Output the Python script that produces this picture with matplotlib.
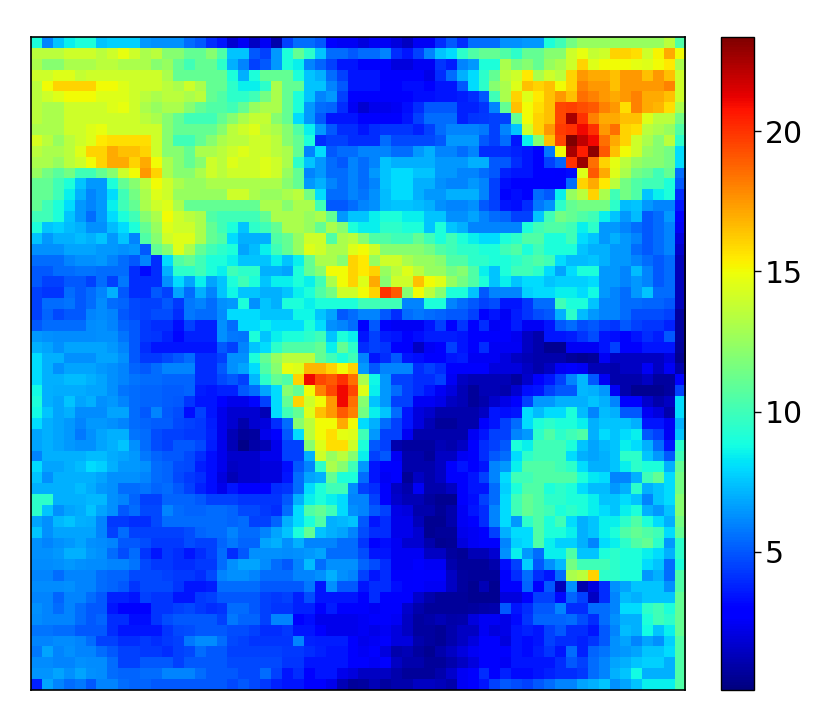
import numpy as np
import matplotlib
matplotlib.use("Agg")
import matplotlib.pyplot as plt

# Values, top row first; left half = columns 0-29, right half = columns 30-59
heat_left = [
[9,6,7.5,8.5,9,9,7.5,7.8,7.8,7.8,6.5,6.3,6.3,6.3,5.5,5,4,3.5,1.8,2.5,1.5,2.5,1,4.5,5.5,5.5,5,3,2.5,2.5],
[13.5,13.5,13.5,14,14,14,13.5,14,14.8,14,13,13.5,12,12,11,11,12,10.5,7.5,7.5,5,4.5,6.5,9,11,9.5,7.5,5.5,5.5,5],
[13,12,12,13,13,13,13.5,13.5,13,13,13,12,12.5,11,10,11,11,9.5,7,6,4.5,5,6.5,9,8.5,6,5.3,4.5,3.5,3.5],
[14,14,14.5,14.5,13.8,14,14,14,14,14,14,14,13,11,11,11,11,11,9,7,9,11,11,11,9,7.5,7,5.5,4.5,3.5],
[13.5,15,16,16,16,16,15,15,14.5,14,14,14,13.5,13,14,13,11,11,9.5,8.5,8.5,9.5,13,11,11,7.5,7.5,6,5,3.5],
[13.5,14,14.5,15,15,15,14.5,14.5,14.5,14,13.5,13,13.5,13.5,13,13.5,11,10.5,9.5,9.5,10,11.5,13,11,9,7.5,6,6.5,4.5,3],
[13.5,13,13,14,14,14,14,14.5,14.8,14,13,12.5,13,13,12,11,10.5,10.5,10,11,12.5,13,13,11,9,6.5,5.5,5.3,4,2.5],
[13.5,13,13,14,14,14,14,14,14,14,13.5,13,12,11,10,10,10,11,12,13,13.8,13.8,12,11,8,6.5,5,3.5,3.5,3.5],
[13,13,13,14,14,14.5,14.8,14,14,14,14,14,12,11,11,11,11,12,13.5,14,14.5,13.5,13,12,10.5,8.5,6.5,5,4,4],
[14.3,13.5,12.5,13.5,14,14.5,15.5,15.8,15.8,15.8,15.8,14,12,10,10,11,12,13,13.5,13.5,14,14,13.5,12,11,9,4,4.5,4.5,4],
[13.5,13,13,13.5,14.5,16,16,17,16.5,16.5,16,14,12,12,11,13,13,13.5,14,14.5,14,14,13.5,13,11,6,8,5,5.5,5.5],
[13,13,12.5,13.5,14,15,16,17,17,16,17,15,13,12,11,12,14,13.5,14.5,14,14,14.5,14,13,9.5,7.5,6.5,5.5,5,6],
[12.5,11.5,10.8,11.5,10,10,11,12,14,15,17.5,16,13,12,12,13,14,13.5,14,14,14,14.5,14,12.5,11,6,6.5,5.5,5.5,6],
[11,11,10,9,7.5,6.5,6.5,9,11,12,13.5,15,14,13,12.5,12.5,13,13,13,13,13,13,13,12,11,6.5,7,6,5.5,6],
[11,11,10,8.5,7,6,6.5,8,10,11.5,13,14.5,14,12.5,12.5,12.5,12.5,12.5,14,14,13,12.5,12.5,13,13.5,11.5,8,5.5,5.5,6],
[11,10,9,8,6.5,6,6.5,8.5,10,11,13,14,14.5,13,11,11,11,11,11,11,11,13,13,12,13,13,10,5,5,5.5],
[10,10,9,7.5,6.5,5.5,6.5,8,9,10,12,13,15,14,13.5,13,10.5,10,10,10,10,11,13,13,13,12.5,13,11,6.5,7.5],
[9,7.5,7.8,7.3,7,6.3,6.3,7.3,8,9,11,12.5,14.5,14,14,13,11,10,9,7.5,9.5,10,11,13,13,12.5,11,13,12,9],
[7.5,6.5,7,7,7.3,7,7.5,6.5,7.5,6,10.5,12,14,14.5,14.5,13,11,10.5,8,7,7,7,10.5,11,12.5,14,14,10.5,13,13.5],
[6.3,6.3,6.3,6.8,6.8,6.8,6.5,6.5,6.3,6.5,5,11,12,14.5,13,11,10,9.5,9,6.8,7.3,8.5,10,11,12.5,14.5,14,13,13,14.5],
[5.5,5.5,5.5,6,6.3,6.3,6.5,6,5.5,5,6,4,8,10.5,11,10,9,9,8.5,7.5,7.5,7.5,8.5,7.5,8.5,11,13,13,12,16],
[5,5,5.5,5.5,5.7,5.7,5.5,5.5,5.5,4,3.2,4,7,9.5,9.5,10,9,8.5,10,9.5,9.5,7,7,6.8,9,11,12,15,15,16],
[5,4.5,4.5,5,5,4.5,5.5,4.5,5.8,4,4,4,6.3,8,6.8,8.5,6.8,7.5,9,10,9,7.5,8.5,8.5,9,8.5,10,13,15,16],
[4.5,4.2,4.2,5.5,5,5.5,6,7,5,4,4,5,4.5,6.8,5.5,7,6,7.5,8.7,7.5,7.5,7,7,7.5,8.5,9,10.5,11.5,14,14],
[4.5,5.5,5.5,5.7,5,5.5,6.2,5.5,5.3,4.7,4.5,4.5,5,4.3,5.8,6,5.5,6.3,6.5,9,6.3,7.5,7,9,9,8.5,9,9,9,9],
[4.5,5.3,4.7,5,5,6,6.2,6,5,4.7,4.5,4.8,4.8,4,5.8,5.5,5.5,6.2,8,8,8,7.5,7.5,7.5,8.7,8.7,7.5,6.8,5,5.5],
[5,5.5,5.5,5.5,5.5,6.2,6.3,6,5.3,5,4.3,4,4,3.3,4.5,3.8,3.8,6.3,5.5,8,8,8.5,8,8,8,9,8,6.3,6,5.5],
[6.5,6.3,6.2,6.2,6.2,6.2,6.3,6.3,5.7,5,4.3,4.2,3.8,3.1,3.8,3.8,3.8,6.3,5.8,5.7,9,7.5,8.5,9,9,9.5,10,7.5,9,8.5],
[7,6.8,6.3,6.8,6.8,6.8,6.8,6.5,6,5,4,3.5,3.5,3.5,3.5,3.5,3.5,5,4.5,6,7.5,8,9.5,10.5,10.5,10.5,11,8.5,11,9.5],
[8,7,7,6.3,6.3,6.3,6.8,6.8,6.3,5,4.3,4.3,4.7,5,5.5,4,4,4.5,6.3,6.3,9,11,12.5,13.5,13.5,13.5,11,10,9,10],
[8,7,6.3,6.8,6.8,6.8,6.5,6.3,6,5.3,5,5.5,6,6,6,4,4,5,6.3,6.8,8,10.5,12,14.8,14.5,16.8,16.8,16,15,16],
[8,7,7,7.3,7.3,7,6.8,6.3,6,5.7,5.5,5.5,5.3,5.3,5.3,4,4,4.7,5,4.5,7.2,9.5,11,10.5,16,21,19.5,19,20,18.5],
[8.8,7,6.9,6.9,6.9,6.8,6.8,6.3,5.7,5.5,5.3,5.3,5.1,5.1,5.3,3.7,3.5,3.8,3.8,5,5.5,6.8,8,12,11,15,18,19.5,21,19.5],
[9,7,6.8,7.5,6.8,7,6.3,6.5,6,5.5,5.3,5.3,5.1,5,4.2,3.5,3.5,3,2.3,2.3,3.1,4.5,8,11,16,14,15,17.5,21,18.5],
[8.8,7.5,6.8,7,6.2,6.2,6.2,6.8,6.8,5.5,5,6,5,4.8,3.3,4.5,3.5,2.3,1.8,1.8,1.8,1.2,8,10,11,14.5,16.5,17.5,19,18],
[8,7,6.8,6.5,6,6.5,6.5,6.3,6,5.5,5.3,5.1,5.1,4.7,4.5,4.3,3.7,2.3,1.8,1,1.8,2,4,5.5,12,13.5,15,15,17,15],
[6.8,7,6.8,6.5,5.8,6.3,6.8,7,7,5.7,5.5,4.8,4.5,4.5,4.3,4.3,3.8,2.3,1.2,0.7,0.8,2.3,3,5,8,13.5,15,15.8,14.7,14.5],
[6.8,7,6.8,6.5,6.3,6.3,6.8,7,7.5,6.3,5.5,4.8,4.5,5,5,4.7,3.7,2.3,1.2,0.3,0.9,1.2,2.3,4.5,4.5,12,14.5,15.8,15.8,14],
[6,7,7,7,7,7.3,7.3,6.9,6.8,6.5,5.8,5.3,5,5,4.7,4,3.3,2.3,1.7,1.7,1.7,2.3,2.3,4.5,4.5,7,14,12.5,13.5,12],
[8,6.8,6.8,7,7.3,8,7.8,7,6.5,6.5,6.3,5.5,5.3,4.8,4.7,3.7,3.3,2.3,1.5,1.7,1.7,2,2,3.3,5,6,9.5,13,12,10],
[7.5,6.3,7,7,7,7,6.8,6.3,6.3,6.3,6,5.5,5.3,4.7,4.3,4,3.3,2,1.2,1.7,1.7,2,2,3.5,5.5,6.8,7,11,9,9],
[7,7,7,7,7.3,6.9,6.5,6.3,5.5,5.5,5.7,5.3,5.5,5,4.5,3.8,3.3,2.3,3.5,3,3,3,4,4.2,5.5,8,9,10,10,6.2],
[9.5,9.5,7,7,7,7.2,7.2,6.3,6,5.3,4.5,4.5,5.3,5.3,5.3,5,4.5,4.5,4.5,4.2,4.2,4.2,4.2,5,7,8.5,9,8.5,8,6],
[9.5,7.5,6.3,6.8,6.9,7.5,6.8,6.3,5,5.5,4.7,4.7,6,5.5,5.3,5.3,5.5,5.5,5.3,4.7,4.7,4.3,4,5.5,8,10.5,11,10,8,6.3],
[6.8,6.3,7.2,7.5,7,6.9,6,4.3,4.3,4,4,4.7,5.5,5.5,5.5,5.5,5.5,5.5,5.3,5.5,4.5,4.5,5.3,7,8,9,10.5,7,7.2,7.5],
[7.5,6.3,6.8,6.8,6.8,6.8,6,4.5,5.5,4.5,4.5,4.5,4.5,4.5,4.8,5.3,5.5,5.5,6,5.5,5.5,6,6.8,7.5,9,11,7.5,7,6.8,6],
[6.3,6,6.3,6.5,6.8,6.3,6.2,6,5,5,4.8,4.3,4.3,4.3,4.8,4.5,4.5,5.3,5.8,5.3,5.3,6.8,7,6.3,7,6,6,6,5.5,5.5],
[6.3,6.3,6.5,7,7,6.5,6.3,5.5,4.8,5.5,4.2,3.5,4.3,4,3.5,4,4.5,5.5,4,5,6.3,6.3,6.3,6.2,6.3,6.5,6.8,5.5,5.5,5.5],
[6.2,6.2,6.3,6.5,6.3,6.2,6.2,6,6,5.7,4.7,4.3,4.3,4,4,4.3,4.3,5.5,6.3,6.8,6.8,6.2,5.5,5,6,7.3,5.5,6.3,6.3,6.3],
[6,6,5.5,6,6,6,5.5,5.3,5.3,4.7,4.7,4.7,4.5,4.3,4.3,4,4.7,6,6.3,6.3,6,5.5,5.5,5.5,6,6,6.3,7,6.3,6],
[6.2,6.2,6.2,6.3,6,6,5.5,5.3,5,4.2,4.7,4.7,4.7,4.2,3.5,3.5,3.7,5.5,5.5,5.5,5.5,5,5,5,5,5.8,3.5,6.3,5,5],
[6,6,5.3,6,6,5.5,5,3.8,3.8,3.5,4.5,4.2,4.2,3.5,3.5,4.3,4.5,5,5,5,5,4.5,4.3,4.5,3.8,4.8,3.5,3.5,3.5,3.5],
[6.3,6,5.5,6,5.5,5,5,3.5,3,3,3,4.2,4.2,4.5,4.7,4.3,4,4.2,5.5,5.5,5,4.5,4.2,4.2,3.8,3.8,3,3.7,3,3],
[6.2,6,6,6,5.5,5,5.3,4,4,3.3,3.3,4.2,4.8,5,5,5,5,4.5,5.8,5.3,5.3,4.5,6,6,3,3.3,2.3,2.3,2.3,2.3],
[5.7,5.7,5.5,5.5,5,5,5,4,3.5,3.5,3.5,3.5,4.2,4.7,4.8,5,5,5,4.8,4.8,4.5,4,4,4.3,3.5,3.5,3,2.3,2.3,2.3],
[6,6,6.2,6.2,6,5.5,4.5,4.5,4,4,4.3,4,4.3,4.5,5.8,6.2,6.2,5.5,4.7,4.5,4.2,4.2,4.2,4.2,6,3.8,3.7,3.7,3.7,3],
[5.8,6.8,6,6.3,6,6,5.5,5,4.5,4.5,4.3,4.3,4,4.5,4.7,5.5,5,5,4.5,4.5,4.5,4.5,4.5,4.3,4.3,4,3.8,3.5,3.5,3],
[6.2,6.2,6,6,6.3,6.2,6.2,5.5,4.5,4.5,5,5,5,4.5,5,5,5,5,4.7,4.7,4.7,4.7,4.7,4.2,4.2,3.5,3.5,3.5,3.5,3],
[6.4,6.4,6.8,6.3,6.8,6.3,6.2,5.5,5.3,5.3,5.5,5.5,6,6,6,5.5,5,5,5,4.7,4.7,5.5,4.5,3.5,4,3,3.5,3.5,2.3,2],
[3.8,6.8,6,5.5,5.8,5,6,6,5.5,5.3,5.3,5,5,5,5,5,5,5,4.7,5,4.7,4.3,3.8,3.5,3.5,3,3,2.3,1.2,0.7],
]
heat_right = [
[2,2.5,2.5,2,1.5,2.5,2.5,4,5,4,5.5,5.5,5.5,6.3,6.3,6.5,6.5,9,10,11.5,12.5,12.5,12.5,12.5,12.5,12.5,12.5,12.5,13.5,10.5],
[5.5,5.5,6,4,3.5,4.5,6,7.5,8,9.5,10.5,11,11,10.5,9.5,11,11,12,12,14,14.8,13.8,14,16,16,15.8,14,15.2,17,15],
[2.7,2.7,2.7,2,2,2.5,2.5,4.2,3.7,6,6.5,9,9,13,11.5,12,11,12.5,13,14,16,14.5,15,15,15,14.7,14.5,15,15.5,13],
[3.5,3.5,2.7,2.7,2.7,2.7,2.2,4,5.5,7,8,9.5,11,13.5,14,15.5,13,14,13.5,16,17.5,17,17,16.5,17.5,17.5,16.5,17.5,16.5,14],
[3.5,3.5,3,3,3.3,3.3,2.8,3.5,3.5,5,8,9.5,12,13,14.5,16.5,16,16.5,15,16,18,17.5,17.5,16.5,17.5,17.5,17.5,17.5,18,14],
[2.7,2.7,2.7,2.7,3,3.3,3.3,3.5,3.5,3.7,4,5,10,13,16,14.5,15.5,16.5,17.5,16.5,18.5,18,17.5,17,17.5,18,17,17,16.5,14],
[1.8,2.3,2.3,2.5,3.3,4,5,5,5,3.8,3.8,4.2,6,11,16.5,15,15.8,16.5,19.5,19.7,19.3,19,18,17.5,15.8,18,17,16.8,15.8,13],
[3,3,2.7,3,3.5,4.5,5.5,5.5,5.5,3.8,4.2,4.3,4.5,4.5,11,15,16,16.5,19.5,22.5,20,18,17,17,16.5,16.5,14.5,13.5,13.5,11.5],
[3.5,4,4.2,4.2,4.2,3.8,4.5,5.5,6,6,6,5.8,4.5,6,7.5,14,16,17.5,19.8,20,21,20,17.5,18.5,16,15.8,13.5,13,12.5,10.5],
[4,4,5.5,4.7,4.7,4.7,4.7,5,6.5,6.5,6.5,5,4.5,5.5,3.5,8.5,12,16.5,19.5,23.3,22,21,18.5,17,16,14,13,12,13.5,9.5],
[6,6,6,5.5,5.5,6.5,7,6,6,5.5,6,4,4,4,3.8,3.5,2.8,5.8,15,22.5,20.5,23,19,16.5,15,14,12.5,12,11.5,8],
[5.5,6,7.5,7,7,7,7,6.5,6.5,6.5,7,7,5,5,4,3.5,2.7,4.5,5.3,20,22.8,18.5,16,14.7,13.5,12.5,12,12,11.5,8],
[5.5,6.5,7.5,8,8,7.5,7.5,6.5,6.5,6,6,5.5,5,3.8,3.5,3.5,3,3,2.7,3.2,14.5,19,17,14.5,13,11.5,11,10,11,5.5],
[5.5,6,7.5,8,8,7,7,6.3,6,6,6.5,6,4.5,3.3,3,3,2.7,2.7,2.7,5.5,16,17,15.5,13.5,11.5,10.5,10,10,9,5],
[5.7,6.3,7.3,8,8,7,6.5,6.5,7,7,7,6,4.5,3,3.3,3,5.5,5,8.5,12.5,13.5,16,13,10,11.5,10.5,7.5,8.5,9,4],
[6,6.3,7.3,7.5,7.5,7.3,7,6.3,6,6,6.3,5,4.5,3.5,3.3,4,5.8,6.3,9.5,11,11.5,11.5,11.5,9.5,7.3,7.5,6.5,6,6,3.5],
[7.5,8.5,9,9,8.5,8.5,7.5,7.5,6.3,6.3,6.8,6,5.5,5.3,4.5,4.5,7.5,10,11.5,11,10.5,10,8.5,7.5,6.5,7.3,5,5.5,6.5,3],
[8.5,8.5,9.5,9.5,9,9,7.5,9,7.5,7,6,6,6,6,6,9,10,10.5,10.5,10,8.5,9.5,6.5,6.5,6,5.5,5,5.5,6,2.5],
[12,10.5,10.5,10,10,11,10,9,10,9,8.5,8,8,9,9.5,10.5,10.5,9,9,10,8,7.5,6.5,7,6.5,6,5,5.5,6,2],
[15,14,12,12,12,12,11.5,10.5,10,9.5,9.5,9,9,10,10.5,9,10,9,9,9,7.5,7,7,6.5,6.5,5.5,5,5.5,6,1.7],
[15.5,12.5,14,14,13,12.5,12.5,12,10.5,10.5,9.5,9.5,9,9,9.5,10,10.5,10,8,7.3,7.3,7.5,7,6.5,6.5,6,5.5,5,5.5,1.3],
[15.5,16,12.5,13.5,14.5,13.5,12.5,12.5,11.5,12,10.5,8.5,7.5,9,10,10,9.5,8,6.8,8,9,9,6.5,6.5,6,7.3,6,5,5.5,1.3],
[14.5,17,12,14,14,16.5,15,14.5,12.5,11.5,10.5,9,7.5,8.5,7.5,8,8,7.5,7.8,7.8,7.8,8,6.5,6.5,6,6.5,6,5,5.5,1.3],
[15,16,20,19,12,15,13.5,12,9,9,7.5,5,6,6,6,7.8,8,8,8.5,8.5,8,8.8,6.5,6,5.5,6.5,7.5,5.5,5.5,1.3],
[10,10,10,10,6,6,9,9,6,5.5,5,4.5,4.8,3.5,3.5,4.2,5.5,5.5,10,9,9,7.5,6,6,5.5,5.5,5.3,5.3,5,1.3],
[6,6,5,4,5.5,5.8,5.5,5.3,5,5,4.5,3,3.5,2.5,3.7,4.2,4.8,5,7,9.5,7.3,6.5,6,6,5.5,4.8,4.8,4.8,4.5,0.8],
[3,5,2.7,2.5,2.5,2.5,3.5,4.5,3,4.2,2.8,4,2.5,2.8,3.7,2.5,2.5,3.5,5,5.5,4.8,5,4.5,4.2,5,4.5,4.2,4.2,3.8,0.8],
[3.5,4.5,3.7,3.5,2.7,3.3,3.7,3.7,3.7,3.5,3,2.8,2.7,2.7,2.4,1.5,1,3.5,3.5,3.7,4.2,4.8,3.5,3.3,2.7,3.5,4,3.7,5,0.8],
[4,4.5,4.2,3,2.7,1.5,2.5,3,4.5,3.5,2.7,4,2.5,2.5,2.5,1.5,1,0.5,0.5,2.5,2.5,2.5,3.5,4.5,2.7,2.7,3.5,3.5,3.5,0.7],
[6,3.5,4,5,3.5,3.3,3,3,3.5,3.7,2.5,2.5,2.5,2,1.5,1.2,1,1,1,0.7,0.5,0.7,2.5,1.5,1.5,1.5,1.5,1.5,2,0.5],
[6.5,5,6,6,6,4,4.5,4,3,2.7,2.7,2.7,2,2,2,1.5,1,1.5,2.5,3,2.5,1.2,1.2,1,1.5,1.5,2.5,1.5,2.5,1],
[13,8.7,6.5,4.5,4.5,4,4,4.5,2.5,1.5,1.2,1.2,1.2,1.2,0.8,1.7,2.7,3.5,4.5,6,7.2,5,2.5,1,1,1,1.5,0.8,0.8,2.8],
[14.5,8.5,6.5,5.5,4.5,4,3.5,2.5,2,1.2,0.7,1.2,1.2,1,1.8,3.3,3.5,4.5,5,5,7.2,7,6.5,2.5,1,0.5,0.5,0.5,0.8,4.5],
[12,7.5,6.5,4.5,4.5,2.5,2.5,2.2,1.5,1.2,0.7,1,1.7,2.2,3,4.5,6.5,6.5,7,7,7,7.5,7,6,3,3,1.7,1,1.5,8],
[11.5,8.5,7.5,5.5,3.5,2,1.7,1,1,1,1,1.5,3.5,3.3,3.5,8,7.3,8,8,9,7.3,6,7.3,7,5,5,2.5,2,1,8],
[8,7,5.5,4.5,3.5,2,1.2,0.7,0.7,1,1,3,3.5,4.5,5.5,8,9,9.5,9,9,8.5,7,7.5,7.5,7.5,7,3.5,3.5,2.5,7],
[10,6.5,4.5,4.5,2.5,1,1,1,1,1,2.5,3.5,4.5,4.5,6,6.5,9.5,10.5,9.5,10,10.5,7,8,7.5,8,8.5,5,4.5,2.5,7.5],
[9,5,4.5,1,0.8,0.8,0.8,1.2,1,1.5,3,4,4.5,5,9,8.5,10,10,10,9,7.5,6.8,7.2,7.5,8.5,8,7,5.5,3.5,9.5],
[8.5,4.5,5,2.5,1,1,0.7,1.5,1.5,2.5,2.7,4,5,5.5,8,9.5,10,10,10,8,7,6.8,7,7.5,9.5,9.5,7.5,6.5,5,10],
[6.5,3.5,3,2.7,1,1,1,1.5,3,3.5,3,3.5,6,6.5,8.5,10.5,10.5,10.5,10,9.5,8,7,7,7.5,8.5,9.5,9,9,7,11],
[5.5,3.5,2.5,2.7,0.6,1.5,1,1.5,2.7,2.7,3.5,4.5,6,8,10,10,10.5,10.5,10.5,10.5,9,8.3,8,6,6,7,10,11,8,11.5],
[4.5,4,2.7,1.5,1,2.5,1,1,1.5,2.7,3.5,3.5,5.5,7.8,9,10.5,10.5,9,9.5,9,8,7.3,7.3,6.5,7,9.5,7,7.5,8,11.5],
[6,4.5,2.7,1.7,1.2,1.2,0.8,0.5,0.5,2.7,3.3,4.5,5.5,8,10,11,10.5,9.5,9.5,9,9,8.5,7.5,7.5,8,7.5,6,7.5,8,12],
[6,5,4.5,2.2,2,1,1,0.6,1,2.5,3.5,4,6,8,10,11,10.5,10,9,9.5,9,8.5,8,7.5,8.5,9,7,6.5,7.5,12],
[5,3.5,4,2.3,2.3,1.3,0.5,0.5,1,2.5,3,4,6,8,6.5,9.5,10.5,9,10,8,7,7.5,8.5,8.5,9.5,10.5,9,8,7,11.5],
[4.8,4,4,2.3,2.3,1.8,0.5,0.7,0.7,2.3,2.5,3,4.5,7,8,8,10.5,9,9,8.5,7,7.5,8.5,9,10.5,11,10.5,10,8,11],
[4.2,3,3.3,2.5,1.8,1.8,1,0.5,0.6,2,2.5,2.7,2.7,6,7.8,8,10.5,8.5,7.8,7.8,7,6,8,8.5,9.5,10.5,11,9.5,6.5,9.5],
[4.8,3.5,3.5,2.5,2.5,2.5,1.5,1.5,0.8,0.6,1.2,1.2,1.8,6.3,8.5,6.5,5.5,8.5,8.5,10.5,7.5,7.5,9,9.5,9,9,8.5,8,7,9.5],
[5.3,4.8,4,2.5,2.5,3,2.5,2.5,1,0.7,0.7,0.7,1,3.3,4.5,7.8,5,6.3,7.2,11.5,10,10,10,9.5,9,9,8,7.5,5.5,9],
[4.5,3.5,4,2.7,2.7,3,2.7,2.7,1.5,0.8,0.7,0.7,0.7,2.7,4,5.5,4,3.5,5.5,13,13.5,16,9.5,9.5,9,9,6.5,7,5.5,10.5],
[3.5,4,4,3.3,2.7,3,2.5,2.5,1.5,0.8,0.5,1.2,0.5,3,3,5.3,3,5,1.3,6.3,1,2,4,6.3,6.8,7.5,7.5,7.5,6.3,10.5],
[3,4,3,2.8,2.8,1.7,1,0.7,0.7,0.7,0.5,0.5,0.5,2,2,3,4.5,4.5,3.2,5.3,4.5,1.5,4,6,7.3,7,7.5,7.5,7.5,11],
[2.7,2.5,2.7,2.7,1.7,1,0.7,0.7,0.7,0.7,0.8,0.9,1,5,3.5,4,5,5,6,4,4,5.5,5.5,6,8,8,9.5,10,9,11],
[2.5,2.7,2.7,2.5,1.5,0.8,0.9,1.2,0.9,1,2,2.5,2.5,2.2,3.2,4.2,5.3,5.3,5.3,5.5,4.8,4,5.5,6.3,7,7,9,10,9.5,11],
[2.5,2.2,2.5,2,1.5,0.8,0.8,0.6,1,1.5,1.5,2.5,2,2.2,3.5,3.8,3.5,4.5,5,4,4,3.5,5,6,7.3,7,8.8,7.5,8.5,11],
[2.3,2.5,2.7,2,2,1,0.8,0.6,1,1.5,2,3,3,2,3.5,3.2,3.5,4.5,4,4,3.8,4.2,5,6.3,6.8,6,6.8,6.3,7.8,10.5],
[2.5,3,2,1,1.2,0.8,0.5,1,1.5,2,2.5,3,3,2.7,3.5,3.2,3.7,4.2,3.5,5.5,3.8,5.3,5.7,6.3,6.5,6.8,7.5,7.5,8,10.5],
[3,2.5,3,1.5,1,1,0.7,0.7,1,1.5,2,3,3,2.5,3.5,3.5,3.5,3.5,4,5,4.5,5.5,6,6.8,7,7.5,7.8,7.8,7,10.5],
[1.5,1.5,1.5,1,0.7,0.7,0.7,1,1.7,2.5,3,4,3,3.8,3.2,3.2,3.5,3.8,4,4,4.3,5.5,6,7,7.5,8.8,7,7,7,10.5],
[0.8,1.2,0.8,1,1,1.5,1.5,1.3,1,2.5,3,3.5,4.5,5,4.8,4.5,5,5.5,6,6,6.8,7,7.5,6.3,6.8,7.5,8.5,8.5,8.5,10.5],
]
colorbar_ticks = [5, 10, 15, 20]
value_min, value_max = 0.08, 23.35

W, H = 830, 727
heat = np.hstack([np.array(heat_left), np.array(heat_right)])

fig = plt.figure(figsize=(W / 100, H / 100), dpi=100)
ax = fig.add_axes([31 / W, (H - 690) / H, 654 / W, 653 / H])
im = ax.imshow(heat, cmap="jet", vmin=value_min, vmax=value_max,
               interpolation="nearest", aspect="auto")
ax.set_xticks([])
ax.set_yticks([])
for s in ax.spines.values():
    s.set_linewidth(1.2)

cax = fig.add_axes([721 / W, (H - 690) / H, 33 / W, 653 / H])
cb = fig.colorbar(im, cax=cax, ticks=colorbar_ticks)
cb.ax.tick_params(labelsize=21.5, length=5, width=1, pad=2.5)
cb.outline.set_linewidth(1)

fig.savefig("out.png", dpi=100)
